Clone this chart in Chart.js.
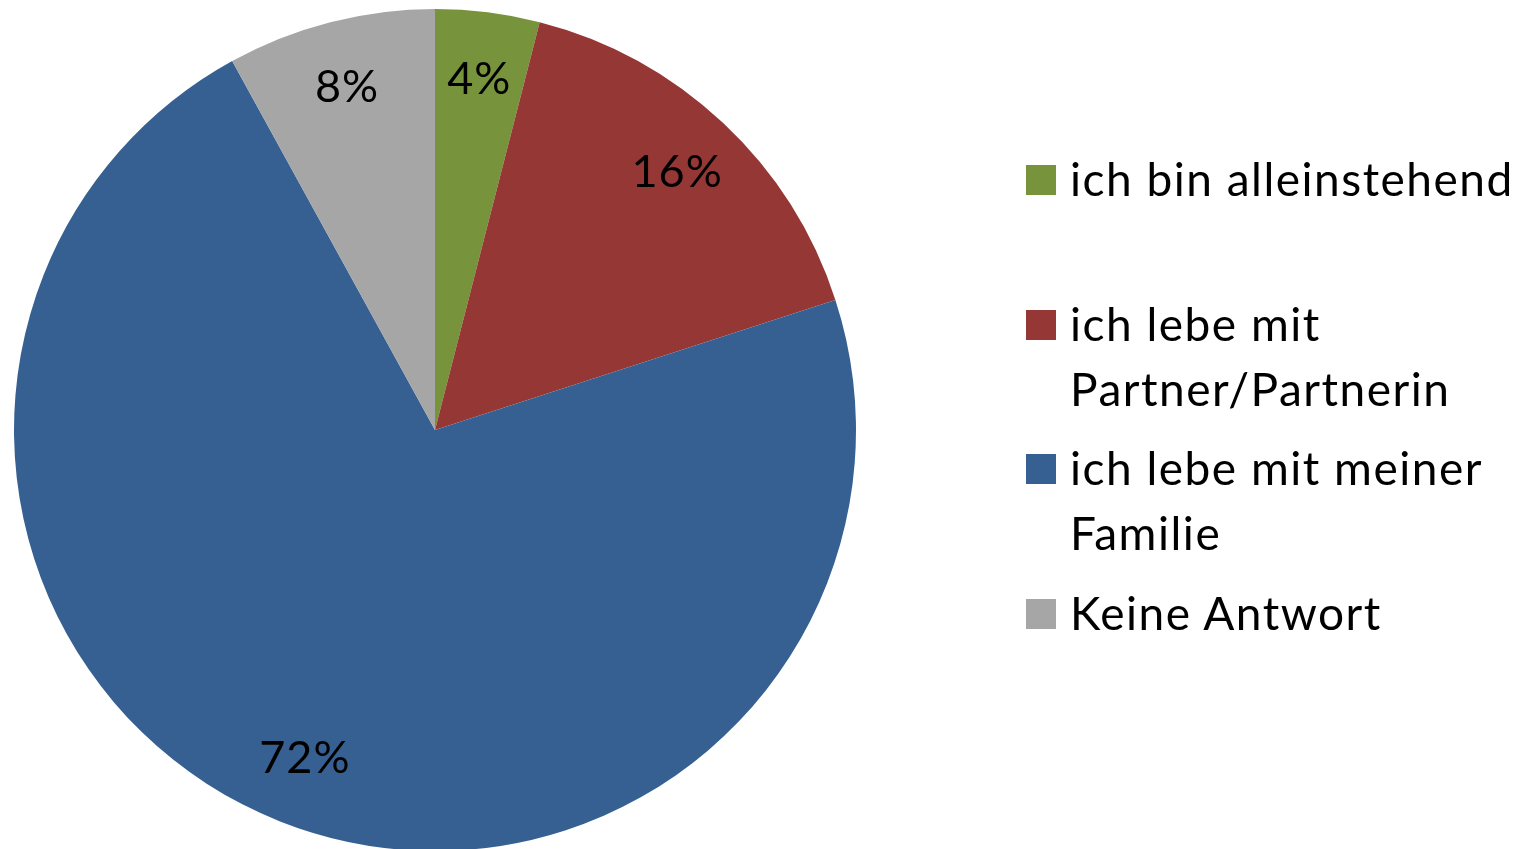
<!DOCTYPE html>
<html>
<head>
<meta charset="utf-8">
<script src="https://cdn.jsdelivr.net/npm/chart.js@4/dist/chart.umd.min.js"></script>
<style>
  html, body { margin: 0; padding: 0; background: #fff; overflow: hidden; }
  #wrap { position: relative; width: 1526px; height: 852px; }
  #legend { position: absolute; left: 1026px; top: 146px; font-family: Lato, "Open Sans", sans-serif; font-size: 46px; letter-spacing: 1.5px; color: #000; }
  .item { position: absolute; left: 0; width: 500px; line-height: 65px; }
  .box { position: absolute; left: 0; width: 30px; height: 30px; }
  .txt { position: absolute; left: 44px; white-space: nowrap; }
</style>
</head>
<body>
<div id="wrap">
  <canvas id="pie"></canvas>
  <div id="legend"></div>
</div>
<script>
const labels = [
  ["ich bin alleinstehend"],
  ["ich lebe mit", "Partner/Partnerin"],
  ["ich lebe mit meiner", "Familie"],
  ["Keine Antwort"]
];
const values = [4, 16, 72, 8];
const colors = ["#77933C", "#953735", "#376092", "#A6A6A6"];

// legend rows (top of first line, from picture)
const legendTops = [0, 145, 289, 434];
const legend = document.getElementById("legend");
labels.forEach((lines, i) => {
  const item = document.createElement("div");
  item.className = "item";
  item.style.top = legendTops[i] + "px";
  const box = document.createElement("div");
  box.className = "box";
  box.style.background = colors[i];
  box.style.top = "19px";
  const txt = document.createElement("div");
  txt.className = "txt";
  txt.innerHTML = lines.join("<br>");
  item.append(box, txt);
  legend.appendChild(item);
});

const pctLabels = {
  id: "pctLabels",
  afterDatasetsDraw(chart) {
    const ctx = chart.ctx;
    const meta = chart.getDatasetMeta(0);
    ctx.save();
    ctx.font = "45px Lato, 'Open Sans', sans-serif";
    ctx.letterSpacing = "1px";
    ctx.fillStyle = "#000";
    ctx.textAlign = "center";
    ctx.textBaseline = "middle";
    meta.data.forEach((arc, i) => {
      const p = arc.getProps(["x", "y", "startAngle", "endAngle", "outerRadius"], true);
      const mid = (p.startAngle + p.endAngle) / 2;
      const r = p.outerRadius * 0.84;
      ctx.fillText(values[i] + "%", p.x + Math.cos(mid) * r, p.y + Math.sin(mid) * r);
    });
    ctx.restore();
  }
};

new Chart(document.getElementById("pie"), {
  type: "pie",
  data: {
    labels: labels.map(l => l.join(" ")),
    datasets: [{
      data: values,
      backgroundColor: colors,
      borderWidth: 0
    }]
  },
  options: {
    responsive: true,
    maintainAspectRatio: false,
    animation: false,
    layout: { padding: { left: 14, right: 670, top: 9, bottom: 1 } },
    plugins: {
      legend: { display: false },
      tooltip: { enabled: false }
    }
  },
  plugins: [pctLabels]
});
</script>
</body>
</html>
